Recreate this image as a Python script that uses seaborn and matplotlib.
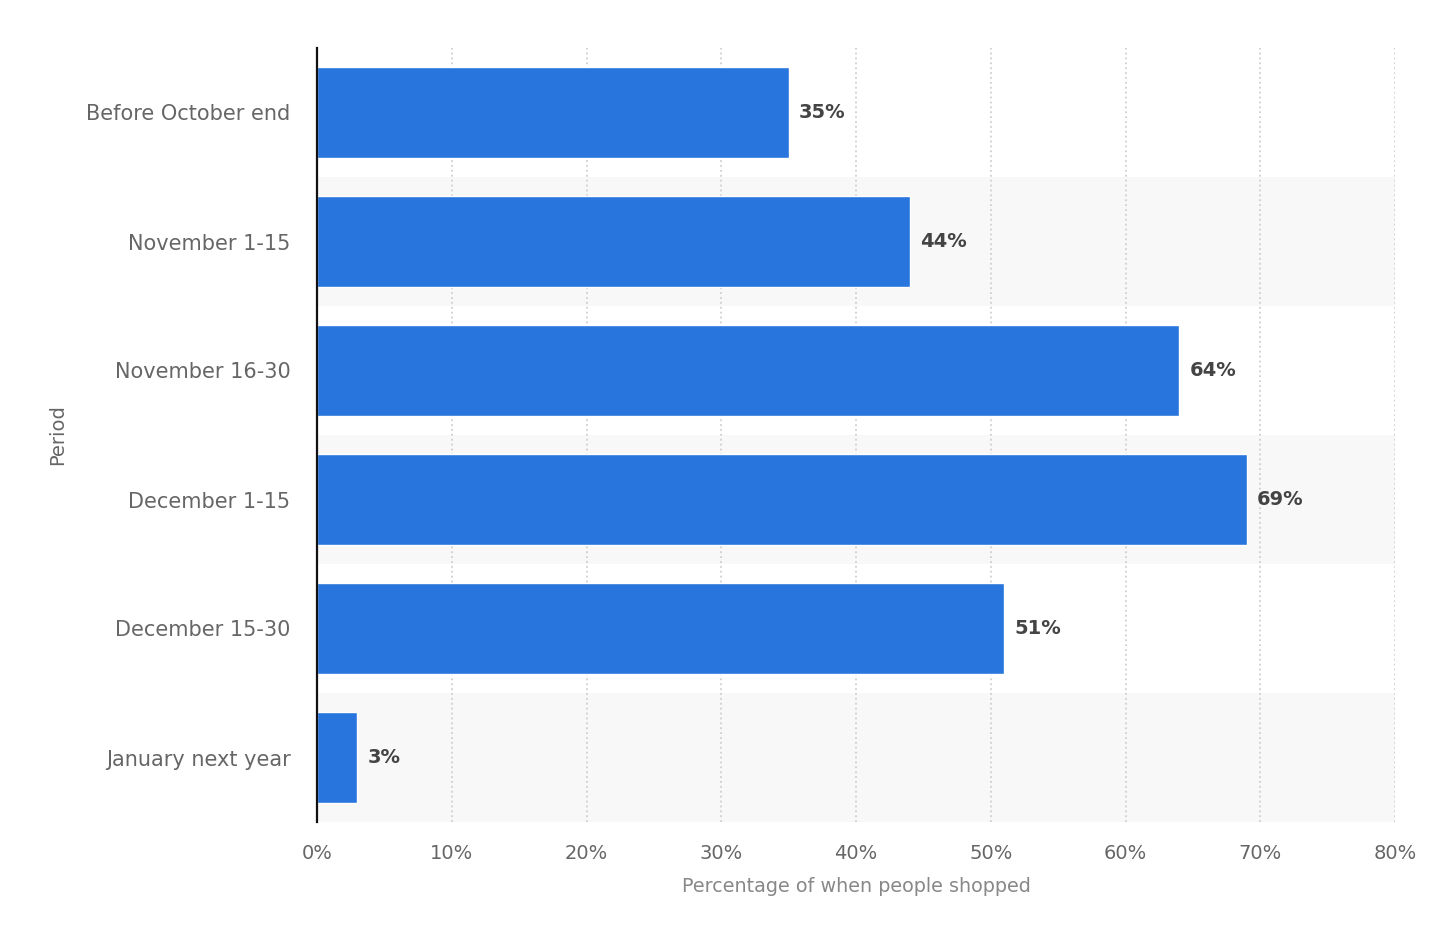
import matplotlib
matplotlib.use("Agg")
import matplotlib.pyplot as plt
import seaborn as sns
import pandas as pd

categories = ["Before October end", "November 1-15", "November 16-30",
              "December 1-15", "December 15-30", "January next year"]
values = [35, 44, 64, 69, 51, 3]
xticks = [0, 10, 20, 30, 40, 50, 60, 70, 80]
xtick_labels = [f"{t}%" for t in xticks]

sns.set_theme(style="white")
plt.rcParams['font.family'] = ['DejaVu Sans']

df = pd.DataFrame({"Period": categories, "Value": values})

fig = plt.figure(figsize=(14.4, 9.34), dpi=100)
ax = fig.add_axes([317/1440, 1-822/934, (1395-317)/1440, (822-48)/934])

# alternating bands
for i in range(len(categories)):
    if i % 2 == 1:
        ax.axhspan(i-0.5, i+0.5, color="#f8f8f8", zorder=0, lw=0)

sns.barplot(data=df, x="Value", y="Period", orient="h", color="#2775dd",
            saturation=1, width=0.7, ax=ax, zorder=3)

ax.set_xlim(0, 80)
ax.set_ylim(len(categories)-0.5, -0.5)
ax.set_xticks(xticks)
ax.set_xticklabels(xtick_labels)
ax.xaxis.grid(True, linestyle=(0, (1.2, 2)), color="#c8c8c8", lw=1.1, zorder=1)
ax.yaxis.grid(False)
ax.set_axisbelow(True)
for s in ["top", "right", "bottom"]:
    ax.spines[s].set_visible(False)
ax.spines["left"].set_color("#111111")
ax.spines["left"].set_linewidth(1.6)
ax.spines["left"].set_zorder(5)

ax.tick_params(axis="y", length=0, pad=19, labelsize=15, labelcolor="#666666")
ax.tick_params(axis="x", length=0, pad=16, labelsize=14, labelcolor="#666666")

for i, v in enumerate(values):
    ax.text(v + 0.75, i, f"{v}%", va="center", ha="left", fontsize=14,
            fontweight="bold", color="#444444", zorder=6)

ax.set_xlabel("Percentage of when people shopped", fontsize=13.8, color="#888888", labelpad=10)
ax.set_ylabel("Period", fontsize=14, color="#666666")
ax.yaxis.set_label_coords(-0.232, 0.5)

fig.savefig("out.png", dpi=100, facecolor="white")
